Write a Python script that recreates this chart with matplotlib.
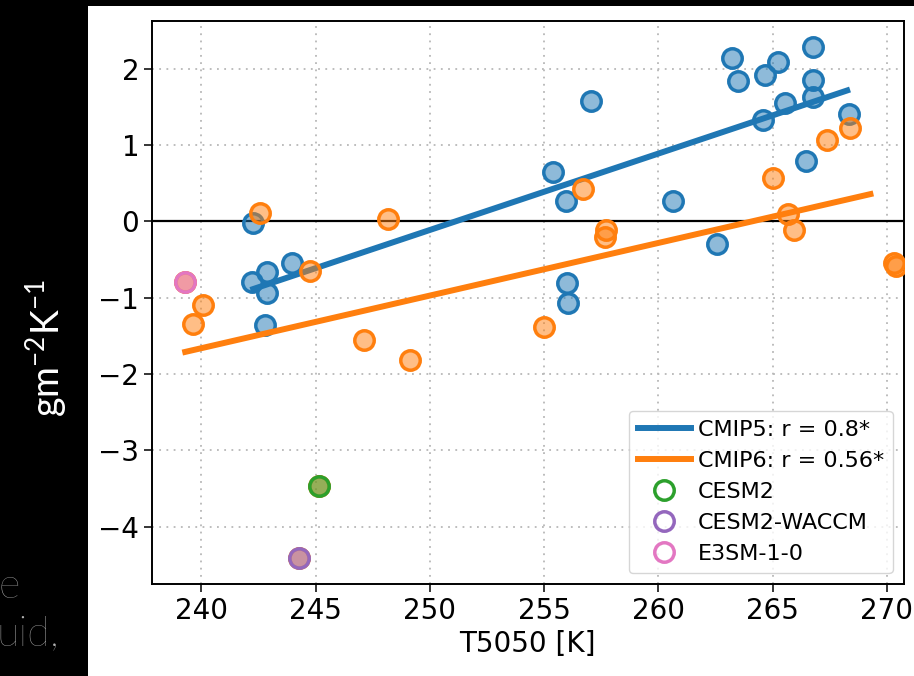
import matplotlib.pyplot as plt
from matplotlib.lines import Line2D
from matplotlib.colors import to_rgba

# CMIP5 models (T5050 [K], sensitivity)
cmip5_t = [242.28, 242.2, 242.86, 242.86, 243.98, 242.79, 255.41, 255.95, 255.99, 256.06,
           260.66, 257.06, 262.57, 263.21, 263.5, 264.67, 265.25, 266.76, 266.78, 266.78,
           265.54, 264.6, 268.36, 266.46]
cmip5_v = [-0.02, -0.79, -0.66, -0.94, -0.545, -1.36, 0.647, 0.267, -0.806, -1.07,
           0.267, 1.58, -0.30, 2.14, 1.84, 1.91, 2.09, 2.28, 1.85, 1.63,
           1.55, 1.32, 1.40, 0.79]

# CMIP6 models
cmip6_t = [242.57, 248.18, 244.76, 247.12, 249.13, 240.09, 239.65, 256.72, 257.71, 257.67,
           255.01, 265.03, 267.37, 268.39, 265.69, 265.93, 270.3, 270.4,
           245.16, 244.27, 239.29]
cmip6_v = [0.11, 0.03, -0.65, -1.55, -1.82, -1.10, -1.35, 0.42, -0.11, -0.20,
           -1.38, 0.56, 1.06, 1.22, 0.10, -0.12, -0.55, -0.58,
           -3.47, -4.41, -0.79]

# fitted lines (end points)
fit5_t = [242.15, 268.39]
fit5_v = [-0.90, 1.725]
fit6_t = [239.17, 269.41]
fit6_v = [-1.72, 0.364]

# highlighted CMIP6 models
special_names = ['CESM2', 'CESM2-WACCM', 'E3SM-1-0']
special_t = [245.16, 244.27, 239.29]
special_v = [-3.47, -4.41, -0.79]
special_colors = ['tab:green', 'tab:purple', 'tab:pink']

labels5 = 'CMIP5: r = 0.8*'
labels6 = 'CMIP6: r = 0.56*'

plt.rcParams['mathtext.fontset'] = 'custom'
plt.rcParams['mathtext.rm'] = 'Lato'

fig = plt.figure(figsize=(9.14, 6.76), dpi=100, facecolor='black')

# white panel of the pasted figure
bg = fig.add_axes([88 / 914, 0, 1 - 88 / 914, 670 / 676], zorder=-1)
bg.set_facecolor('white')
bg.set_xticks([])
bg.set_yticks([])
for s in bg.spines.values():
    s.set_visible(False)

ax = fig.add_axes([0.166, 0.1357, 0.823, 0.833])
ax.set_facecolor('white')

def face(c):
    return to_rgba(c, 0.5)

ms = 196
ax.scatter(cmip5_t, cmip5_v, s=ms, facecolors=face('tab:blue'), edgecolors='tab:blue',
           linewidths=2.5, zorder=3)
ax.plot(fit5_t, fit5_v, color='tab:blue', lw=4.3, solid_capstyle='butt', zorder=4)
ax.scatter(cmip6_t, cmip6_v, s=ms, facecolors=face('tab:orange'), edgecolors='tab:orange',
           linewidths=2.5, zorder=5)
ax.plot(fit6_t, fit6_v, color='tab:orange', lw=4.3, solid_capstyle='butt', zorder=6)
for t, v, c in zip(special_t, special_v, special_colors):
    ax.scatter([t], [v], s=ms, facecolors=face(c), edgecolors=c, linewidths=2.5, zorder=7)

ax.axhline(0, color='black', lw=1.6, zorder=2)

ax.set_xlim(237.83, 270.75)
ax.set_ylim(-4.754, 2.62)
ax.set_xticks([240, 245, 250, 255, 260, 265, 270])
ax.set_yticks([-4, -3, -2, -1, 0, 1, 2])
ax.grid(True, ls=(0, (1, 3)), color='0.72', lw=1.3)
ax.set_axisbelow(True)
ax.tick_params(labelsize=20, length=5.5, width=1.1, colors='black')
for s in ax.spines.values():
    s.set_linewidth(1.4)
ax.set_xlabel('T5050 [K]', fontsize=20, labelpad=4)

handles = [Line2D([], [], color='tab:blue', lw=4.3),
           Line2D([], [], color='tab:orange', lw=4.3)]
for c in special_colors:
    handles.append(Line2D([], [], ls='none', marker='o', ms=14, mfc='none', mec=c, mew=2.5))
ax.legend(handles, [labels5, labels6] + special_names, loc='lower right', fontsize=16,
          handlelength=2.4, handletextpad=0.3, labelspacing=0.5,
          borderaxespad=0.5, framealpha=0.8)

# slide text around the pasted chart
fig.text(47 / 914, 1 - 348 / 676, r'gm$^{\mathrm{-2}}$K$^{\mathrm{-1}}$', color='white',
         rotation=90, ha='center', va='center', fontsize=27, family='Lato')
fig.text(-0.002, 1 - 598 / 676, 'e', color='#b4b4b4', fontsize=30, family='Lato',
         weight='light', ha='left', va='baseline')
fig.text(-0.004, 1 - 645 / 676, 'uid,', color='#b4b4b4', fontsize=30, family='Lato',
         weight='light', ha='left', va='baseline')

fig.savefig('out.png', dpi=100, facecolor='black')
